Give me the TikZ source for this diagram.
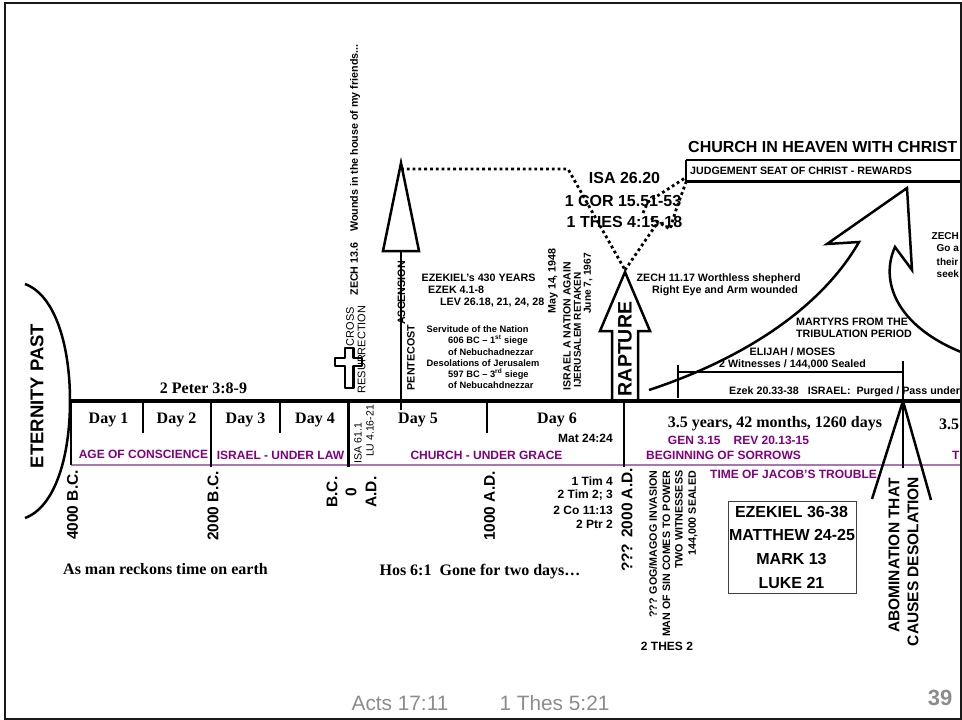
\documentclass[tikz,border=0pt]{standalone}
\usepackage{fontspec}
\setmainfont{Liberation Serif}
\setsansfont{Liberation Sans}
\definecolor{ageline}{HTML}{A876B0}
\definecolor{agetext}{HTML}{800080}
\definecolor{footgray}{HTML}{8C8C8C}
\tikzset{
  sb/.style={font={\sffamily\bfseries\fontsize{#1}{#1}\selectfont},inner sep=0pt},
  sb/.default=10.7,
  sr/.style={font={\sffamily\fontsize{#1}{#1}\selectfont},inner sep=0pt},
  sr/.default=11,
  tb/.style={font={\rmfamily\bfseries\fontsize{#1}{#1}\selectfont},inner sep=0pt},
  tb/.default=16,
  age/.style={sb=12,text=agetext},
  up/.style={rotate=90},
  tick/.style={line width=2.5pt},
  spot/.style={line width=2.8pt,dash pattern=on 2.8pt off 3pt}
}
\begin{document}
\begin{tikzpicture}[x=1pt,y=-1pt]
  \useasboundingbox (0,0) rectangle (962,720);
  \path (71,401)  coordinate (past)
        (961,401) coordinate (future)
        (71,465)  coordinate (agestart)
        (961,465) coordinate (ageend)
        (25,284)  coordinate (etop)
        (70,401)  coordinate (emid)
        (25,518)  coordinate (ebot)
        (143,401) coordinate (d1) (143,433) coordinate (d1e)
        (211,401) coordinate (d2) (211,467) coordinate (d2e)
        (280,401) coordinate (d3) (280,433) coordinate (d3e)
        (348.5,401) coordinate (d4) (348.5,467) coordinate (d4e)
        (487,401) coordinate (d5) (487,433) coordinate (d5e)
        (624,401) coordinate (d6) (624,467) coordinate (d6e)
        (903,361) coordinate (mid) (903,401) coordinate (midb) (903,468) coordinate (mide)
        (401,163) coordinate (asctip) (383,251) coordinate (ascl) (419,251) coordinate (ascr)
        (401,251) coordinate (ascb) (401,410) coordinate (asce)
        (625,270) coordinate (raptip);

  \draw[line width=2.5pt] (etop) .. controls (55,295) and (70,345) .. (emid)
        .. controls (70,457) and (55,507) .. (ebot);
  \draw[ageline,line width=2pt] (agestart) -- (ageend);
  \draw[line width=3.2pt] (past) -- (future);
  \draw[tick] (past) -- (agestart);
  \draw[tick] (d1) -- (d1e);
  \draw[tick] (d2) -- (d2e);
  \draw[tick] (d3) -- (d3e);
  \draw[tick] (d4) -- (d4e);
  \draw[tick] (d5) -- (d5e);
  \draw[tick] (d6) -- (d6e);
  \draw[tick] (mid) -- (mide);

  \draw[line width=2.5pt,line join=round,fill=white] (345,348) -- (353.5,348) -- (353.5,358) -- (362,358)
        -- (362,366) -- (353.5,366) -- (353.5,388) -- (345,388) -- (345,366) -- (335,366) -- (335,358)
        -- (345,358) -- cycle;

  \draw[line width=2.5pt,line join=miter] (asctip) -- (ascr) -- (ascl) -- cycle;
  \draw[tick] (ascb) -- (asce);
  \draw[spot] (401,169) -- (568,169) -- (raptip);
  \draw[spot] (raptip) -- (658,222);
  \draw[spot] (643,213) -- (648,202) -- (685,178);
  \draw[spot] (651,218) -- (670,229) -- (676,210) -- (686,182);

  \draw[line width=2.5pt,line join=miter] (612,400) -- (612,331) -- (600,331) -- (625,272)
        -- (650,331) -- (638,331) -- (638,400);

  \draw[line width=2.5pt,line join=miter] (649,390) .. controls (740,360) and (820,310) .. (859,242)
        -- (827,244) -- (907,188) -- (912,270) -- (895,247)
        .. controls (880,280) and (895,325) .. (961,352);

  \draw[line width=2.5pt] (686,182) -- (686,159.5);
  \draw[line width=3pt] (686,181) -- (962,181);
  \draw[line width=2pt] (686,160) -- (962,160);

  \draw[line width=2pt] (678,365) -- (678,398);
  \draw[line width=1.6pt] (678,372) -- (mid |- 678,372);
  \draw[line width=2.5pt] (midb) -- (872,499);
  \draw[line width=2.5pt] (midb) -- (931,500);

  \draw[line width=0.9pt,draw=black!75] (728,501) rectangle (856,593);

  \node[sb=18.5,up] (epast) at (37,396) {ETERNITY PAST};

  \node[tb] (peter) at (203.5,388) {2 Peter 3:8-9};
  \node[tb] (day1) at (108.5,420) {Day 1};
  \node[tb] (day2) at (176.5,420) {Day 2};
  \node[tb] (day3) at (245.5,420) {Day 3};
  \node[tb] (day4) at (315,420) {Day 4};
  \node[tb] (day5) at (418,420) {Day 5};
  \node[tb] (day6) at (557,420) {Day 6};
  \node[tb] (yrs1) at (775,424) {3.5 years, 42 months, 1260 days};
  \node[tb,anchor=west] (yrs2) at (939,424) {3.5};
  \node[tb=16] (reckon) at (165.5,569) {As man reckons time on earth};
  \node[tb=16] (hosea) at (480,572) {Hos 6:1\ \ Gone for two days…};

  \node[age] (conscience) at (143.5,454) {AGE OF CONSCIENCE};
  \node[age] (law) at (280.5,455) {ISRAEL - UNDER LAW};
  \node[age] (grace) at (486.5,455) {CHURCH - UNDER GRACE};
  \node[age] (sorrows) at (723.5,455) {BEGINNING OF SORROWS};
  \node[age] (gen) at (738.5,440) {GEN 3.15\hspace{13pt}REV 20.13-15};
  \node[age] (jacob) at (793.5,474) {TIME OF JACOB'S TROUBLE};
  \node[age,anchor=west] (trib) at (952,455) {T};

  \node[sb=12,anchor=east] (mat) at (613,438) {Mat 24:24};
  \node[sb=12,anchor=east] (tim1) at (613,481) {1 Tim 4};
  \node[sb=12,anchor=east] (tim2) at (613,495) {2 Tim 2; 3};
  \node[sb=12,anchor=east] (cor) at (613,510) {2 Co 11:13};
  \node[sb=12,anchor=east] (ptr) at (613,524) {2 Ptr 2};

  \node[sb=15.5,up] (bc4) at (72.5,505) {4000 B.C.};
  \node[sb=15.5,up] (bc2) at (213,506) {2000 B.C.};
  \node[sb=15.5,up] (bc) at (332,492) {B.C.};
  \node[sb=15.5,up] (zero) at (351,492) {0};
  \node[sb=15.5,up] (ad) at (371,492) {A.D.};
  \node[sb=15.5,up] (ad1) at (489.5,506) {1000 A.D.};
  \node[sb=15.5,up] (ad2) at (627,520) {??? 2000 A.D.};

  \node[sr,up] (cross) at (350,326.5) {CROSS};
  \node[sr,up] (resur) at (361.5,349.5) {RESURRECTION};
  \node[sb,up] (wounds) at (355,170) {ZECH 13.6\hspace{11pt}Wounds in the house of my friends...};
  \node[sr=10.5,up] (isa61) at (358,443) {ISA 61.1};
  \node[sr=10.5,up] (lu4) at (370,431) {LU 4.16-21};
  \node[sb,up] (ascen) at (401.5,293) {ASCENSION};
  \node[sb,up] (pente) at (411,357.5) {PENTECOST};

  \node[sb,anchor=west] (eze430) at (421.5,278) {EZEKIEL's 430 YEARS};
  \node[sb,anchor=west] (eze4) at (428,290) {EZEK 4.1-8};
  \node[sb,anchor=west] (lev) at (440,303) {LEV 26.18, 21, 24, 28};
  \node[sb=9.3,anchor=west] (serv) at (426.5,329) {Servitude of the Nation};
  \node[sb=9.3,anchor=west] (s606) at (448,340) {606 BC – 1\textsuperscript{st} siege};
  \node[sb=9.3,anchor=west] (neb1) at (448,352) {of Nebuchadnezzar};
  \node[sb=9.3,anchor=west] (deso) at (426.5,363) {Desolations of Jerusalem};
  \node[sb=9.3,anchor=west] (s597) at (448,374) {597 BC – 3\textsuperscript{rd} siege};
  \node[sb=9.3,anchor=west] (neb2) at (448,385) {of Nebucahdnezzar};

  \node[sb,up] (may) at (553,281) {May 14, 1948};
  \node[sb=10.5,up] (nation) at (567,326) {ISRAEL A NATION AGAIN};
  \node[sb=10,up] (retake) at (577.5,330) {IJERUSALEM RETAKEN};
  \node[sb=10.2,up] (june) at (588,283.5) {June 7, 1967};

  \node[sb=16] (isa26) at (624.5,178) {ISA 26.20};
  \node[sb=16] (cor15) at (623,201) {1 COR 15.51-53};
  \node[sb=16] (thes4) at (624.5,222) {1 THES 4:15-18};

  \node[sb=19.5,up] (rapt) at (625,349) {RAPTURE};

  \node[sb=16,anchor=west] (church) at (688,147) {CHURCH IN HEAVEN WITH CHRIST};
  \node[sb=10.65,anchor=west] (judge) at (690,171) {JUDGEMENT SEAT OF CHRIST - REWARDS};

  \node[sb,anchor=west] (zech11) at (636.5,279) {ZECH 11.17 Worthless shepherd};
  \node[sb,anchor=west] (right) at (652,291) {Right Eye and Arm wounded};
  \node[sb,anchor=west] (mart) at (796,322) {MARTYRS FROM THE};
  \node[sb,anchor=west] (tribp) at (796,334) {TRIBULATION PERIOD};
  \node[sb] (elijah) at (792.5,352) {ELIJAH / MOSES};
  \node[sb] (witness) at (792.5,364) {2 Witnesses / 144,000 Sealed};
  \node[sb,anchor=west] (purged) at (729,391.5) {Ezek 20.33-38\hspace{9pt}ISRAEL:\ \ Purged / Pass under};
  \node[sb=10,anchor=west] (zc1) at (931.5,236) {ZECH};
  \node[sb=10,anchor=west] (zc2) at (936.5,248) {Go a};
  \node[sb=10,anchor=west] (zc3) at (936.5,261.5) {their};
  \node[sb=10,anchor=west] (zc4) at (936.5,274) {seek};

  \node[sb,up,anchor=east] (gog) at (653,470.5) {??? GOG/MAGOG INVASION};
  \node[sb,up,anchor=east] (man) at (666.5,470.5) {MAN OF SIN COMES TO POWER};
  \node[sb,up,anchor=east] (two) at (679,470.5) {TWO WITNESSESS};
  \node[sb,up,anchor=east] (seal) at (693,470.5) {144,000 SEALED};
  \node[sb=12] (thes2) at (667,646) {2 THES 2};

  \node[sb=16] (ezk) at (791.5,512) {EZEKIEL 36-38};
  \node[sb=16] (mtt) at (792,535) {MATTHEW 24-25};
  \node[sb=16] (mrk) at (791.5,559) {MARK 13};
  \node[sb=16] (luk) at (791.5,583) {LUKE 21};

  \node[sb=15.5,up] (abom) at (894,555.5) {ABOMINATION THAT};
  \node[sb=15.5,up] (causes) at (913,561.5) {CAUSES DESOLATION};

  \node[sr=20.8,text=footgray] (acts) at (400,703) {Acts 17:11};
  \node[sr=20.8,text=footgray] (thes5) at (554.5,703) {1 Thes 5:21};
  \node[sb=22,text=footgray] (page) at (940,698) {39};

  \draw[line width=2pt,draw=black!90] (4.5,2.5) rectangle (961,718.5);
\end{tikzpicture}
\end{document}
